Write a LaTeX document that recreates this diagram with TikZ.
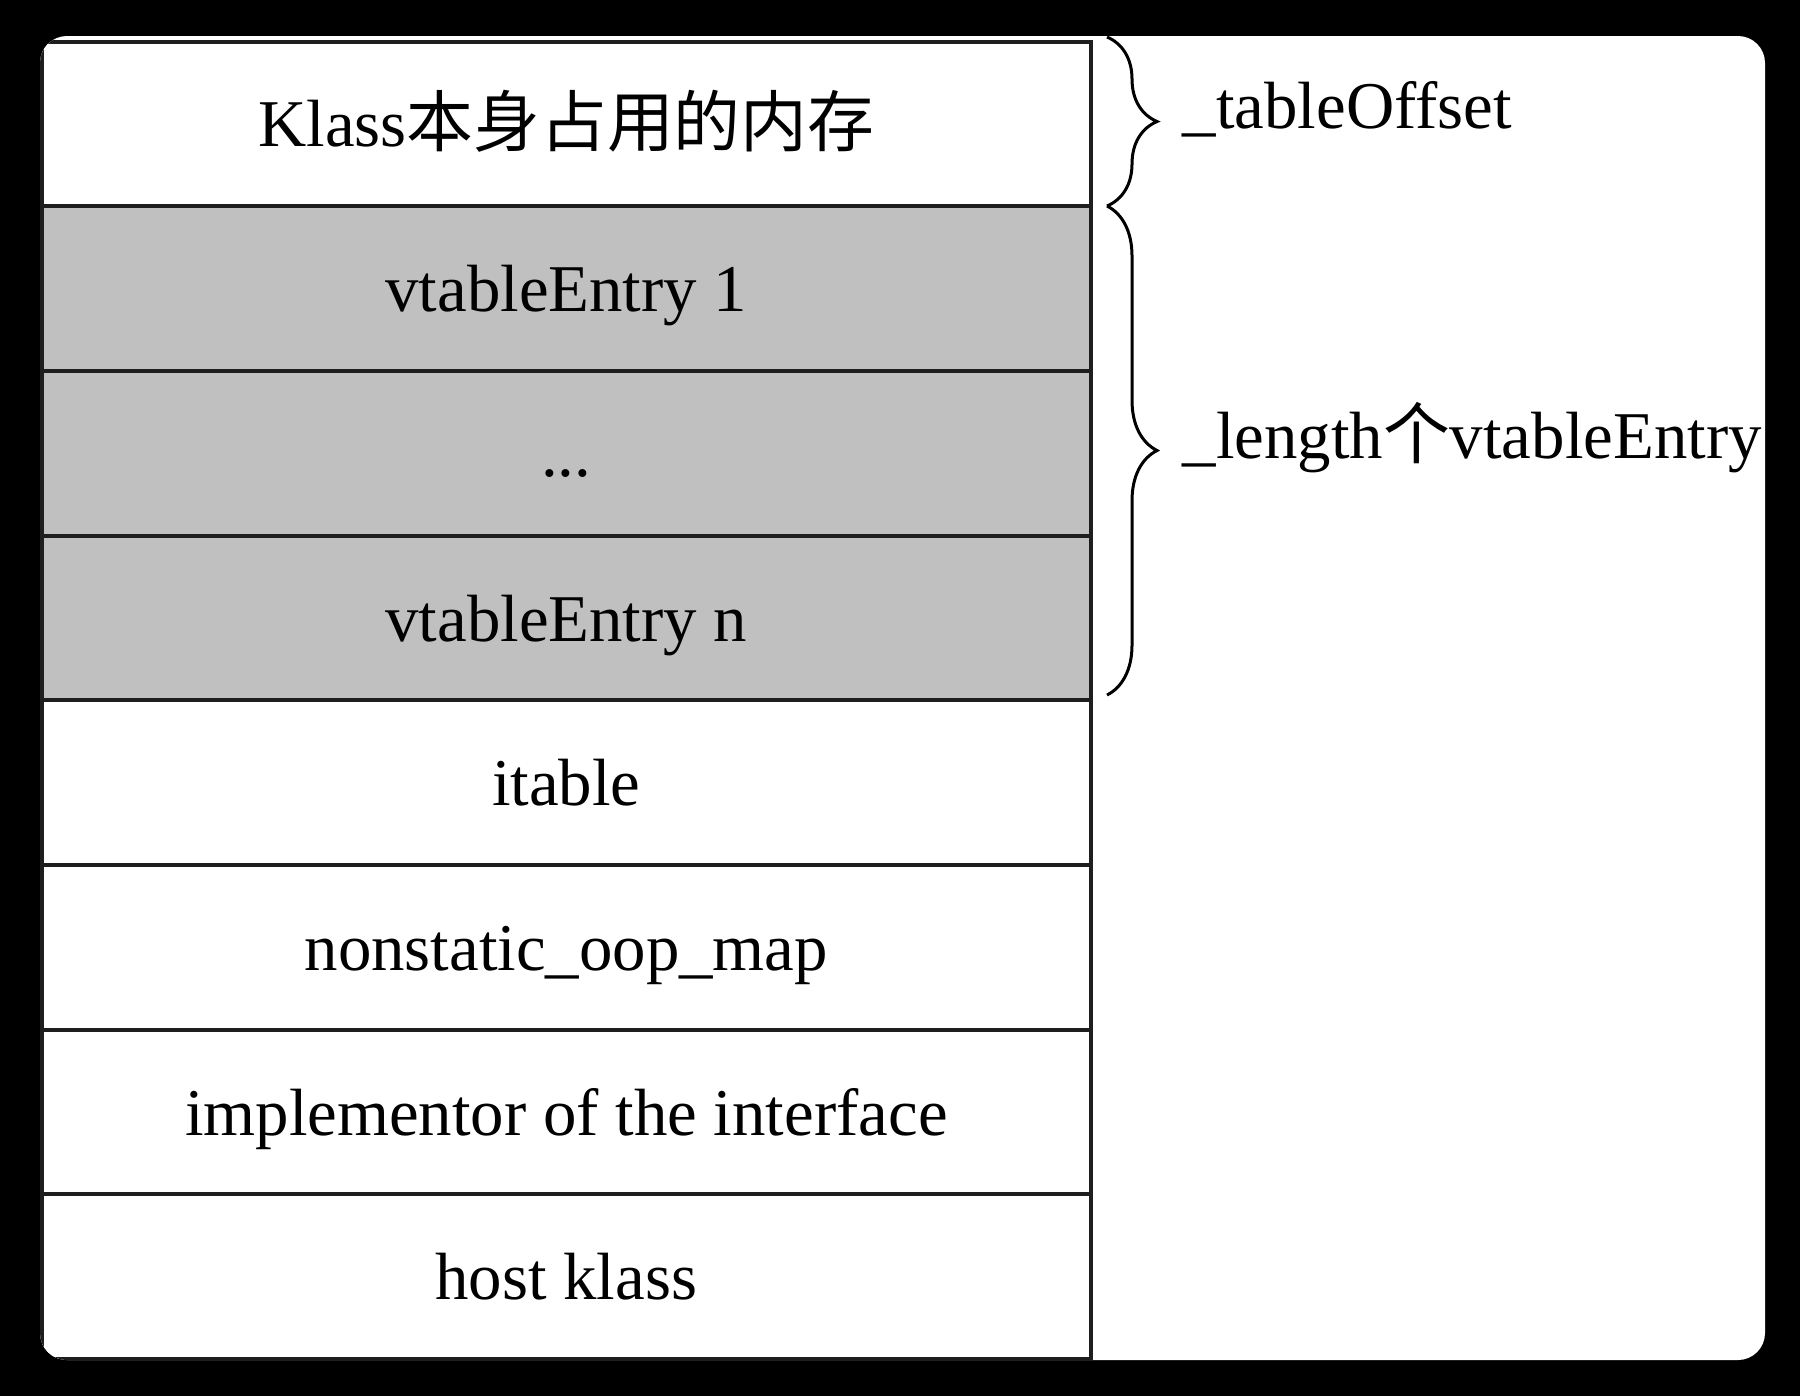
\documentclass[tikz,border=0pt]{standalone}
\usepackage{fontspec}
\setmainfont{Liberation Serif}
\newfontfamily\cjk{Noto Sans CJK SC}
\usetikzlibrary{decorations.pathreplacing}
\definecolor{rowgray}{RGB}{192,192,192}
\definecolor{linecol}{RGB}{30,30,30}
\tikzset{
  row/.style={draw=linecol, line width=0.04cm, minimum width=10.48cm, minimum height=1.647cm,
    inner sep=0pt, anchor=north west, text height=0.56cm, text depth=0.10cm,
    font=\fontsize{19}{23}\selectfont},
  shaded/.style={fill=rowgray},
  plain/.style={fill=white},
  bracelabel/.style={anchor=base west, inner sep=0pt, font=\fontsize{19}{23}\selectfont},
  bracestroke/.style={draw=black, line width=0.03cm, decorate,
    decoration={brace, amplitude=0.5cm}}
}
\begin{document}
\begin{tikzpicture}[x=0.01cm, y=-0.01cm]
\useasboundingbox (0,0) rectangle (1800,1396);
\fill[black] (0,0) rectangle (1800,1396);
\fill[white, rounded corners=0.27cm] (40,36) rectangle (1765,1360);
\begin{scope}
  \clip[rounded corners=0.27cm] (40,36) rectangle (1765,1360);
  \node[row, plain]  (r1) at (40,39.5)   {Klass{\cjk 本身占用的内存}};
  \node[row, shaded] (r2) at (40,204.2)  {vtableEntry 1};
  \node[row, shaded] (r3) at (40,368.9)  {...};
  \node[row, shaded] (r4) at (40,533.6)  {vtableEntry n};
  \node[row, plain]  (r5) at (40,698.3)  {itable};
  \node[row, plain]  (r6) at (40,863.0)  {nonstatic\_oop\_map};
  \node[row, plain]  (r7) at (40,1027.7) {implementor of the interface};
  \node[row, plain]  (r8) at (40,1192.4) {host klass};
\end{scope}
\coordinate (b1top) at (1107,37);
\coordinate (b1bot) at (1107,206);
\coordinate (b2top) at (1107,206);
\coordinate (b2bot) at (1107,695);
\draw[bracestroke] (b1top) -- (b1bot);
\draw[bracestroke] (b2top) -- (b2bot);
\node[bracelabel] (l1) at (1182,128) {\_tableOffset};
\node[bracelabel] (l2) at (1182,458) {\_length{\cjk 个}vtableEntry};
\end{tikzpicture}
\end{document}
